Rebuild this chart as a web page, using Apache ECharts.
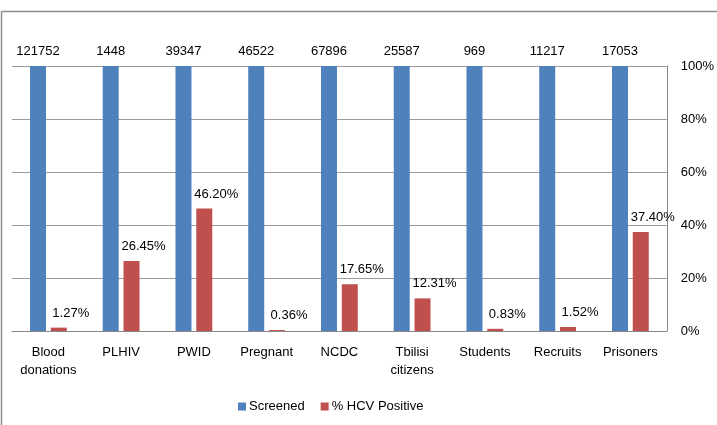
<!DOCTYPE html>
<html>
<head>
<meta charset="utf-8">
<script src="https://cdn.jsdelivr.net/npm/echarts@6/dist/echarts.min.js"></script>
<style>html,body{margin:0;padding:0;background:#fff}#c{width:717px;height:425px}</style>
</head>
<body>
<div id="c"></div>
<script>
const categories = ['Blood\ndonations', 'PLHIV', 'PWID', 'Pregnant', 'NCDC', 'Tbilisi\ncitizens', 'Students', 'Recruits', 'Prisoners'];
const screenedCounts = [121752, 1448, 39347, 46522, 67896, 25587, 969, 11217, 17053];
const screenedPct = [100, 100, 100, 100, 100, 100, 100, 100, 100];
const hcvPositive = [1.27, 26.45, 46.20, 0.36, 17.65, 12.31, 0.83, 1.52, 37.40];
const yTicks = [0, 20, 40, 60, 80, 100];

const FONT = 'Liberation Sans';
const chart = echarts.init(document.getElementById('c'), null, {renderer: 'canvas'});
chart.setOption({
  animation: false,
  backgroundColor: '#fff',
  textStyle: {fontFamily: FONT},
  graphic: [
    {type: 'line', shape: {x1: 1.5, y1: 11.5, x2: 717, y2: 11.5}, style: {stroke: '#8c8c8c', lineWidth: 1.5}},
    {type: 'line', shape: {x1: 1.5, y1: 11.5, x2: 1.5, y2: 425}, style: {stroke: '#8c8c8c', lineWidth: 1.5}}
  ],
  grid: {left: 12, right: 49, top: 66, bottom: 94, containLabel: false},
  legend: {
    bottom: 7, left: 233,
    itemWidth: 8, itemHeight: 8, itemGap: 16,
    icon: 'rect',
    textStyle: {fontFamily: FONT, fontSize: 13, color: '#000', padding: [0, 0, 0, -2]},
    data: ['Screened', '% HCV Positive']
  },
  xAxis: {
    type: 'category',
    data: categories,
    axisLine: {lineStyle: {color: '#888', width: 1}},
    axisTick: {show: false},
    axisLabel: {color: '#000', fontFamily: FONT, fontSize: 13, margin: 12, lineHeight: 18, interval: 0}
  },
  yAxis: {
    type: 'value',
    position: 'right',
    min: 0, max: 100, interval: 20,
    axisLine: {show: true, lineStyle: {color: '#888', width: 1}},
    axisTick: {show: false},
    splitLine: {lineStyle: {color: '#9a9a9a', width: 1}},
    axisLabel: {color: '#000', fontFamily: FONT, fontSize: 13, margin: 14,
      formatter: v => yTicks.includes(v) ? v + '%' : ''}
  },
  series: [
    {
      name: 'Screened', type: 'bar', barWidth: 16, barGap: '30%',
      data: screenedPct,
      itemStyle: {color: '#4F81BD'},
      label: {show: true, position: 'top', distance: 8, color: '#000', fontFamily: FONT, fontSize: 13,
        formatter: p => String(screenedCounts[p.dataIndex])}
    },
    {
      name: '% HCV Positive', type: 'bar', barWidth: 16,
      data: hcvPositive,
      itemStyle: {color: '#C0504D'},
      label: {show: true, position: 'top', distance: 6, offset: [12, -2], color: '#000', fontFamily: FONT, fontSize: 13,
        formatter: p => p.value.toFixed(2) + '%'}
    }
  ]
});
</script>
</body>
</html>
